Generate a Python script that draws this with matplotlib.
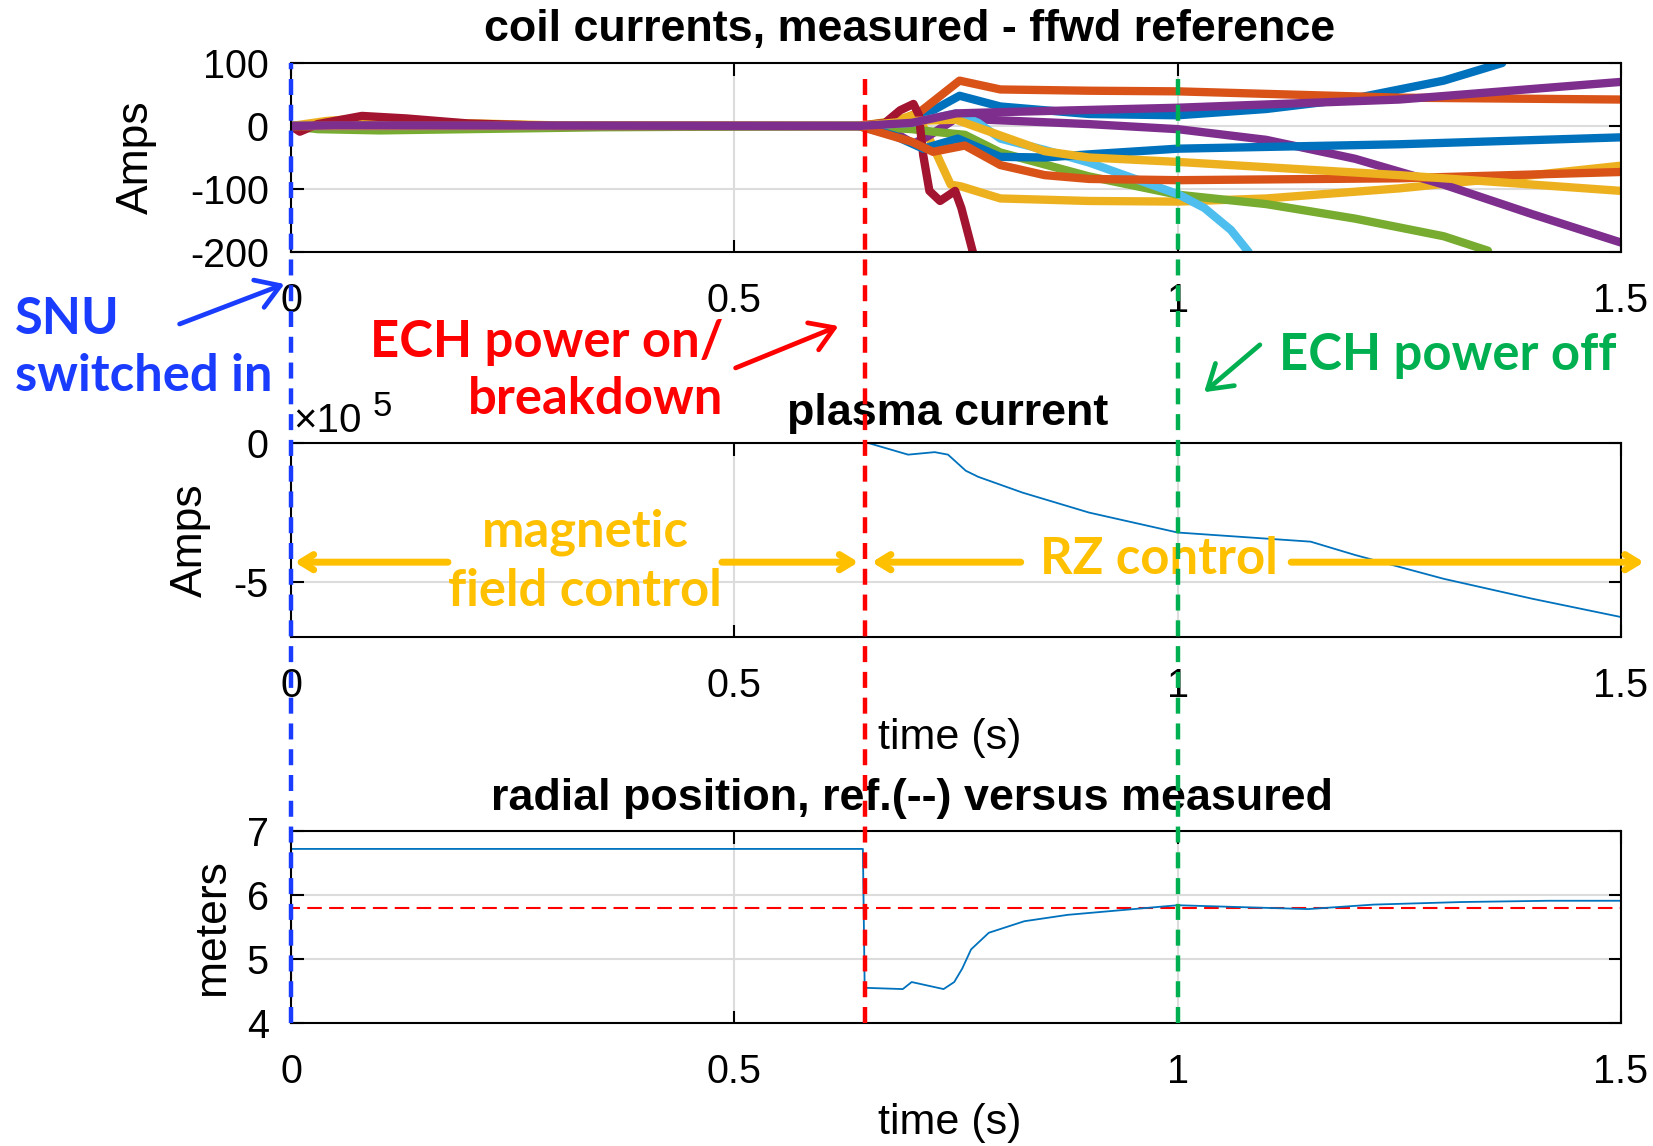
"""
Plasma start-up overview: coil currents, plasma current and radial position,
with the event markers (SNU switched in, ECH on/breakdown, ECH off) drawn
across all three panels.  Saves out.png.
"""

import matplotlib
matplotlib.use("Agg")

import matplotlib.pyplot as plt
from matplotlib.lines import Line2D
from matplotlib.patches import FancyArrowPatch
from matplotlib.transforms import blended_transform_factory


# DATA  (time in s)
# coil currents, measured - ffwd reference (Amps), MATLAB colour order
COIL_T_1 = [0, 0.04, 0.10, 0.20, 0.40, 0.64, 0.68, 0.71, 0.754, 0.80, 0.90, 1.00, 1.10, 1.20, 1.30, 1.366]
COIL_A_1 = [0, 4, 6, 2, 0, 0, 4, 14, 48, 31, 19, 17, 27, 44, 72, 100]
COIL_T_2 = [0, 0.05, 0.12, 0.25, 0.64, 0.68, 0.709, 0.754, 0.80, 0.90, 1.00, 1.25, 1.50]
COIL_A_2 = [0, 3, 4, 1, 0, 5, 22, 72, 58, 56, 55, 45, 42]
COIL_T_3 = [0, 0.04, 0.08, 0.15, 0.30, 0.64, 0.68, 0.706, 0.72, 0.744, 0.756, 0.80, 0.90, 1.00, 1.10, 1.25, 1.40, 1.50]
COIL_A_3 = [0, 8, 12, 6, 1, 0, 8, 19, -20, -93, -96, -115, -119, -120, -115, -99, -78, -63]
COIL_T_4 = [0, 0.64, 0.68, 0.702, 0.72, 0.75, 0.80, 0.90, 1.00, 1.10, 1.20, 1.30, 1.40, 1.50]
COIL_A_4 = [0, 0, -10, -28, -15, 12, 9, 3, -5, -22, -52, -93, -140, -185]
COIL_T_5 = [0, 0.03, 0.10, 0.20, 0.35, 0.64, 0.70, 0.724, 0.76, 0.80, 0.90, 1.00, 1.10, 1.20, 1.30, 1.35]
COIL_A_5 = [0, -5, -7, -5, -2, 0, -5, -9, -14, -42, -80, -109, -124, -147, -175, -198]
COIL_T_6 = [0, 0.64, 0.70, 0.75, 0.775, 0.80, 0.85, 0.90, 0.95, 1.00, 1.03, 1.06, 1.08]
COIL_A_6 = [0, 0, 5, 20, 5, -20, -38, -58, -83, -108, -130, -165, -200]
COIL_T_7 = [0, 0.01, 0.03, 0.08, 0.13, 0.20, 0.30, 0.64, 0.67, 0.687, 0.702, 0.708, 0.713, 0.72, 0.732, 0.749, 0.756, 0.769]
COIL_A_7 = [0, -9, 3, 16, 12, 4, 0, 0, 5, 25, 35, 18, -46, -103, -119, -103, -130, -200]
COIL_T_8 = [0, 0.64, 0.68, 0.713, 0.752, 0.80, 0.85, 0.90, 1.00, 1.25, 1.50]
COIL_A_8 = [0, 0, -15, -36, -20, -49, -50, -45, -36, -29, -18]
COIL_T_9 = [0, 0.64, 0.70, 0.724, 0.76, 0.80, 0.85, 0.90, 1.00, 1.25, 1.50]
COIL_A_9 = [0, 0, -25, -41, -31, -62, -78, -84, -86, -83, -73]
COIL_T_10 = [0, 0.64, 0.70, 0.75, 0.80, 0.85, 0.90, 1.00, 1.25, 1.50]
COIL_A_10 = [0, 0, 8, 10, -15, -40, -50, -57, -78, -103]
COIL_T_11 = [0, 0.05, 0.64, 0.70, 0.75, 0.80, 1.00, 1.25, 1.50]
COIL_A_11 = [0, 1, 0, 5, 20, 22, 29, 42, 70]

# plasma current (x 10^5 Amps)
IP_T = [0, 0.647, 0.651, 0.696, 0.726, 0.741, 0.761, 0.775, 0.825, 0.90, 1.00, 1.15, 1.20, 1.30, 1.40, 1.50]
IP_A = [0, 0, 0, -0.42, -0.33, -0.42, -1.0, -1.22, -1.79, -2.51, -3.23, -3.56, -4.04, -4.9, -5.62, -6.28]

# radial position (meters)
R_T = [0, 0.645, 0.647, 0.690, 0.700, 0.736, 0.748, 0.757, 0.767, 0.787, 0.827, 0.876, 0.975,
       1.0, 1.073, 1.147, 1.221, 1.32, 1.418, 1.5]
R_MEAS = [6.72, 6.72, 4.55, 4.53, 4.64, 4.53, 4.64, 4.85, 5.15, 5.41, 5.59, 5.69, 5.81,
          5.84, 5.81, 5.78, 5.85, 5.89, 5.91, 5.91]
R_REF_T = [0, 0, 1.5]
R_REF = [4.0, 5.8, 5.8]

# event times
T_SNU = 0.0
T_ECH_ON = 0.647
T_ECH_OFF = 1.0

TIME_TICKS = [0, 0.5, 1, 1.5]
TIME_TICK_LABELS = ["0", "0.5", "1", "1.5"]
COIL_TICKS = [-200, -100, 0, 100]
COIL_TICK_LABELS = ["-200", "-100", "0", "100"]
IP_TICKS = [-5, 0]
IP_TICK_LABELS = ["-5", "0"]
R_TICKS = [4, 5, 6, 7]
R_TICK_LABELS = ["4", "5", "6", "7"]


# CONFIGURATION
W, H = 1653, 1146
MATLAB_COLORS = ["#0072BD", "#D95319", "#EDB120", "#7E2F8E", "#77AC30", "#4DBEEE", "#A2142F"]
GRID_CLR = "#dcdcdc"
SNU_BLUE = "#1a3cff"
ECH_RED = "#ff0000"
ECH_GREEN = "#00b050"
CTRL_YELLOW = "#ffc000"
NOTE_FONT = dict(family="Lato", fontweight="bold", fontsize=36.5)
TITLE_SIZE = 32.3

plt.rcParams["font.family"] = ["Liberation Sans", "DejaVu Sans"]


def fpos(x, y):
    """pixel position (from top-left) -> figure fraction"""
    return x / W, 1 - y / H


def style_axes(ax, ylim, yticks, ylabels, ylabel, ylabel_x):
    ax.set_xlim(0, 1.5)
    ax.set_ylim(*ylim)
    ax.set_xticks(TIME_TICKS, TIME_TICK_LABELS)
    ax.set_yticks(yticks, ylabels)
    ax.grid(True, color=GRID_CLR, lw=1.5)
    ax.set_axisbelow(True)
    ax.tick_params(direction="in", length=9, width=1.5, top=True, right=True,
                   labelsize=28.5)
    ax.tick_params(axis="x", pad=21.5)
    ax.tick_params(axis="y", pad=16)
    for sp in ax.spines.values():
        sp.set_linewidth(1.5)
    ax.set_ylabel(ylabel, fontsize=32, va="center")
    ax.yaxis.set_label_coords(ylabel_x, 0.5)


def main() -> None:
    fig = plt.figure(figsize=(W / 100, H / 100), dpi=100)
    left, width = 291 / W, 1330 / W
    ax_top = fig.add_axes([left, 1 - 252 / H, width, 189 / H])
    ax_mid = fig.add_axes([left, 1 - 637 / H, width, 194 / H])
    ax_bot = fig.add_axes([left, 1 - 1023 / H, width, 192 / H])

    # ── coil currents ──
    coils = [
        (COIL_T_1, COIL_A_1), (COIL_T_2, COIL_A_2), (COIL_T_3, COIL_A_3),
        (COIL_T_4, COIL_A_4), (COIL_T_5, COIL_A_5), (COIL_T_6, COIL_A_6),
        (COIL_T_7, COIL_A_7), (COIL_T_8, COIL_A_8), (COIL_T_9, COIL_A_9),
        (COIL_T_10, COIL_A_10), (COIL_T_11, COIL_A_11),
    ]
    for i, (t, a) in enumerate(coils):
        ax_top.plot(t, a, color=MATLAB_COLORS[i % 7], lw=6,
                    solid_capstyle="round", solid_joinstyle="round")
    style_axes(ax_top, (-200, 100), COIL_TICKS, COIL_TICK_LABELS, "Amps", -0.116)
    ax_top.text(0.465, 1.178, "coil currents, measured - ffwd reference",
                transform=ax_top.transAxes, ha="center", va="center",
                fontsize=TITLE_SIZE, fontweight="bold")

    # ── plasma current ──
    ax_mid.plot(IP_T, IP_A, color=MATLAB_COLORS[0], lw=1.3)
    style_axes(ax_mid, (-7, 0), IP_TICKS, IP_TICK_LABELS, "Amps", -0.076)
    ax_mid.text(0.494, 1.153, "plasma current", transform=ax_mid.transAxes,
                ha="center", va="center", fontsize=TITLE_SIZE, fontweight="bold")
    # MATLAB exponent label
    ax_mid.text(0.002, 1.057, "×10", transform=ax_mid.transAxes,
                ha="left", va="baseline", fontsize=29)
    ax_mid.text(0.061, 1.139, "5", transform=ax_mid.transAxes,
                ha="left", va="baseline", fontsize=25)
    ax_mid.set_xlabel("time (s)", fontsize=31, va="center")
    ax_mid.xaxis.set_label_coords(0.495, -0.52)

    # ── radial position ──
    ax_bot.plot(R_REF_T, R_REF, color="#ff0000", lw=1.5, dashes=(7, 3.5))
    ax_bot.plot(R_T, R_MEAS, color=MATLAB_COLORS[0], lw=1.3)
    style_axes(ax_bot, (4, 7), R_TICKS, R_TICK_LABELS, "meters", -0.059)
    ax_bot.text(0.467, 1.171, "radial position, ref.(--) versus measured",
                transform=ax_bot.transAxes, ha="center", va="center",
                fontsize=TITLE_SIZE, fontweight="bold")
    ax_bot.set_xlabel("time (s)", fontsize=31, va="center")
    ax_bot.xaxis.set_label_coords(0.495, -0.52)

    # ── event markers across all panels ──
    trans = blended_transform_factory(ax_bot.transData, fig.transFigure)
    y_low = 1 - 1023 / H
    for t_ev, clr, y_top in [(T_SNU, SNU_BLUE, 63), (T_ECH_ON, ECH_RED, 70),
                             (T_ECH_OFF, ECH_GREEN, 75)]:
        fig.add_artist(Line2D([t_ev, t_ev], [y_low, 1 - y_top / H], transform=trans,
                              color=clr, lw=3.2, dashes=(3.6, 2.2), zorder=10))

    # ── event notes ──
    fig.text(*fpos(15, 348), "SNU\nswitched in", color=SNU_BLUE, ha="left",
             va="center", linespacing=1.25, **NOTE_FONT)
    fig.text(*fpos(723, 342), "ECH power on/", color=ECH_RED, ha="right",
             va="center", **NOTE_FONT)
    fig.text(*fpos(723, 399), "breakdown", color=ECH_RED, ha="right",
             va="center", **NOTE_FONT)
    fig.text(*fpos(1279, 356), "ECH power off", color=ECH_GREEN, ha="left",
             va="center", **NOTE_FONT)

    for (x0, y0), (x1, y1), clr in [((177, 325), (287, 283), SNU_BLUE),
                                    ((733, 369), (841, 325), ECH_RED),
                                    ((1262, 343), (1202, 394), ECH_GREEN)]:
        fig.add_artist(FancyArrowPatch(
            fpos(x0, y0), fpos(x1, y1), transform=fig.transFigure,
            arrowstyle="->,head_length=0.55,head_width=0.35", mutation_scale=30,
            color=clr, lw=3.4, capstyle="round", joinstyle="round", zorder=11))

    # ── control phases on the plasma-current panel ──
    ax_mid.text(0.332, -4.28, "magnetic\nfield control", color=CTRL_YELLOW,
                ha="center", va="center", linespacing=1.3, zorder=12, **NOTE_FONT)
    ax_mid.text(0.979, -4.2, "RZ control", color=CTRL_YELLOW, ha="center",
                va="center", zorder=12, **NOTE_FONT)
    for x_from, x_to in [(0.177, 0.004), (0.486, 0.640), (0.823, 0.655), (1.128, 1.526)]:
        ax_mid.annotate("", xy=(x_to, -4.3), xytext=(x_from, -4.3),
                        arrowprops=dict(arrowstyle="->,head_length=0.9,head_width=0.55",
                                        color=CTRL_YELLOW, lw=5, shrinkA=0, shrinkB=0),
                        annotation_clip=False, zorder=12)

    fig.savefig("out.png", dpi=100, facecolor="white")
    plt.close(fig)


if __name__ == "__main__":
    main()
